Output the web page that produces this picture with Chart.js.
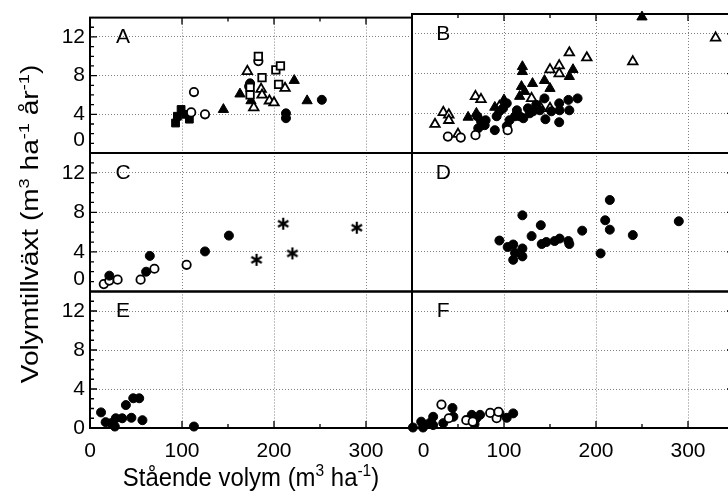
<!DOCTYPE html>
<html><head><meta charset="utf-8">
<script src="https://cdn.jsdelivr.net/npm/chart.js@4/dist/chart.umd.min.js"></script>
<style>
html,body{margin:0;padding:0;background:#fff;overflow:hidden;width:728px;height:491px}
#wrap{position:relative;width:745px;height:491px}
canvas{position:absolute;left:0;top:0}
</style></head><body><div id="wrap"></div>
<script>
// ---------- tick values ----------
const xTicks = [0, 100, 200, 300];
const yTicks = [0, 4, 8, 12];
const yMinorTicks = [1, 2, 3, 4, 5, 6, 7, 8, 9, 10, 11, 12, 13];
const yMajorTicks = [4, 8, 12];
const xMinorLeft = [150, 250];
const xMinorRight = [50, 150, 250];
const xMajorTicks = [100, 200, 300];
const panelLetters = ['A', 'B', 'C', 'D', 'E', 'F'];

// ---------- data (x: stående volym, y: volymtillväxt) ----------
// Panel A
const aFilledSquare = [[93,3.1],[95,3.8],[99,4.5],[104,4.0],[108,3.5]];
const aOpenCircle = [[113,6.3],[110,4.2],[125,4.0],[183,9.5],[173,6.9]];
const aFilledCircle = [[174,7.2],[213,4.1],[213,3.6],[252,5.5]];
const aFilledTri = [[145,4.5],[163,6.1],[175,5.4],[222,7.5],[236,5.4]];
const aOpenTri = [[171,8.45],[178,4.7],[186,6.6],[187,6.0],[195,5.4],[200,5.2],[212,6.7]];
const aOpenSquare = [[183,10.0],[187,7.8],[202,8.6],[207,9.0],[205,7.1],[174,6.8],[174,6.0]];
// Panel B
const bFilledCircle = [[72,2.5],[75,3.2],[80,3.3],[90,2.3],[92,3.7],[95,4.2],[99,4.5],[103,5.0],[103,2.7],[106,3.3],[112,3.7],[114,4.3],[117,3.7],[121,3.5],[126,4.5],[128,4.0],[131.5,4.2],[135,4.85],[139,4.3],[144,5.5],[145,3.4],[151.5,4.2],[160,5.0],[160,3.1],[160.5,4.3],[170,5.35],[171,4.3],[180,5.5],[71,3.7],[79,2.8]];
const bOpenCircle = [[39,1.65],[53,1.55],[69,1.8],[104,2.3]];
const bFilledTri = [[61,3.6],[70,4.0],[90,4.6],[100,5.35],[117,5.7],[119,6.7],[120,8.7],[120,8.2],[122.5,6.2],[131,7.0],[144,7.3],[150,6.5],[171,7.7],[175,8.4],[250,13.7]];
const bOpenTri = [[25,2.9],[34,4.1],[40,3.85],[40,3.3],[50,1.9],[69,5.7],[75,5.4],[95,4.7],[130,5.5],[139,4.7],[150,4.5],[150,8.4],[160,8.8],[160,8.0],[171,10.1],[190,9.6],[240,9.2],[330,11.6]];
// Panel C
const cOpenCircle = [[15,0.75],[21,1.1],[30,1.2],[55,1.2],[70,2.3],[105,2.7]];
const cFilledCircle = [[21,1.6],[61,2.0],[65,3.6],[125,4.05],[151,5.65]];
const cStar = [[181,3.2],[210,6.85],[220,3.85],[290,6.45]];
// Panel D
const dFilledCircle = [[95,5.15],[104,4.5],[110,4.75],[112,3.9],[110,3.2],[120,4.35],[120,3.55],[120,7.7],[130,5.6],[140,6.7],[141,4.8],[146,5.0],[155,5.1],[160.5,5.35],[170,5.1],[171,4.8],[185,6.15],[205,3.85],[210,7.2],[215,6.25],[215,9.25],[240,5.7],[290,7.1]];
// Panel E
const eFilledCircle = [[12,1.6],[17,0.6],[23,0.5],[27,0.15],[28,1.0],[35,1.0],[39,2.35],[45,1.05],[47,3.05],[53.5,3.05],[57,0.8],[113,0.15]];
// Panel F
const fFilledCircle = [[1,0.05],[10,0.65],[12,0.05],[19,0.5],[23,1.15],[23,0.3],[34,0.5],[44,2.05],[45,1.15],[65,1.35],[68,0.4],[70,1.0],[74,1.35],[95,1.5],[103,1.05],[110,1.5]];
const fOpenCircle = [[32,2.4],[40,1.0],[59,0.8],[66,0.65],[85,1.55],[92,1.0],[94,1.65]];

// ---------- styles ----------
const FONT = '"Liberation Sans", Arial, Helvetica, sans-serif';

// six-armed asterisk marker
const starImg = (() => {
  const c = document.createElement('canvas');
  c.width = 14; c.height = 14;
  const g = c.getContext('2d');
  g.strokeStyle = '#000'; g.lineWidth = 2.2; g.lineCap = 'butt';
  g.beginPath();
  for (let k = 0; k < 3; k++) {
    const ang = Math.PI / 2 + k * Math.PI / 3;
    const dx = Math.cos(ang) * 6, dy = Math.sin(ang) * 6;
    g.moveTo(7 - dx, 7 - dy); g.lineTo(7 + dx, 7 + dy);
  }
  g.stroke();
  return c;
})();

const STYLES = {
  filledCircle: {shape: 'circle', r: 4.5, bw: 1, fill: true},
  openCircle: {shape: 'circle', r: 4.2, bw: 1.8, fill: false},
  filledTri: {shape: 'triangle', r: 5.9, bw: 1, fill: true},
  openTri: {shape: 'triangle', r: 5.5, bw: 1.8, fill: false},
  filledSquare: {shape: 'rect', r: 5.5, bw: 1, fill: true},
  openSquare: {shape: 'rect', r: 5.3, bw: 1.8, fill: false},
  star: {shape: starImg, r: 6, bw: 1, fill: false}
};

function ds(arr, style) {
  const st = STYLES[style];
  return {
    data: arr.map(p => ({x: p[0], y: p[1]})),
    pointStyle: st.shape,
    pointRadius: st.r,
    pointBorderWidth: st.bw,
    pointBackgroundColor: st.fill ? '#000' : '#fff',
    pointBorderColor: '#000',
    showLine: false,
    clip: false
  };
}

const W = 745, H = 491;
const colLeft = [90, 412], colRight = [412, 734];
const rowTop = [14, 153, 291.5], rowBottom = [153, 291.5, 428];

const framePlugin = {
  id: 'frame',
  afterDatasetsDraw(chart, args, o) {
    const {ctx, chartArea: a} = chart;
    const xs = chart.scales.x, ys = chart.scales.y;
    ctx.save();
    ctx.strokeStyle = '#000';
    ctx.lineWidth = 1.3;
    ctx.beginPath();
    if (o.leftTicks) for (const v of yMinorTicks) {
      const py = ys.getPixelForValue(v), len = yMajorTicks.includes(v) ? 7 : 4;
      ctx.moveTo(a.left, py); ctx.lineTo(a.left + len, py);
    }
    if (o.rightTicks) for (const v of yMinorTicks) {
      const py = ys.getPixelForValue(v), len = yMajorTicks.includes(v) ? 7 : 4;
      ctx.moveTo(a.right, py); ctx.lineTo(a.right - len, py);
    }
    const xm = o.col === 0 ? xMinorLeft : xMinorRight;
    for (const v of xm.concat(xMajorTicks)) {
      const px = xs.getPixelForValue(v), len = xMajorTicks.includes(v) ? 7 : 4;
      if (o.topTicks) { ctx.moveTo(px, a.top); ctx.lineTo(px, a.top + len); }
      if (o.bottomTicks) { ctx.moveTo(px, a.bottom); ctx.lineTo(px, a.bottom - len); }
    }
    ctx.stroke();
    ctx.lineWidth = 2;
    ctx.strokeRect(a.left, a.top, a.right - a.left, a.bottom - a.top);
    ctx.fillStyle = '#000';
    ctx.font = '21px ' + FONT;
    ctx.textAlign = 'center';
    ctx.textBaseline = 'middle';
    ctx.fillText(o.letter, xs.getPixelForValue(o.letterX), ys.getPixelForValue(12));
    ctx.restore();
  }
};

function drawRich(ctx, parts, size) {
  let total = 0;
  const widths = parts.map(([t, sup]) => {
    ctx.font = (sup ? size * 0.65 : size) + 'px ' + FONT;
    const w = ctx.measureText(t).width; total += w; return w;
  });
  let x = -total / 2;
  parts.forEach(([t, sup], i) => {
    ctx.font = (sup ? size * 0.65 : size) + 'px ' + FONT;
    ctx.fillText(t, x, sup ? -size * 0.4 : 0);
    x += widths[i];
  });
}

const titlePlugin = {
  id: 'titles',
  afterDraw(chart) {
    const ctx = chart.ctx;
    const s = 23;
    ctx.save();
    ctx.fillStyle = '#000';
    ctx.textAlign = 'left';
    ctx.textBaseline = 'alphabetic';
    ctx.translate(251, 477);
    ctx.scale(1.04, 1.1);
    ctx.translate(0, s * 0.35);
    drawRich(ctx, [['Stående volym (m'], ['3', true], [' ha'], ['-1', true], [')']], s);
    ctx.restore();
    ctx.save();
    ctx.fillStyle = '#000';
    ctx.textAlign = 'left';
    ctx.textBaseline = 'alphabetic';
    ctx.translate(30, 224);
    ctx.rotate(-Math.PI / 2);
    ctx.scale(1.22, 1);
    ctx.translate(0, s * 0.35);
    drawRich(ctx, [['Volymtillväxt (m'], ['3', true], [' ha'], ['-1', true], [' år'], ['-1', true], [')']], s);
    ctx.restore();
  }
};

function makePanel(idx, col, row, datasets) {
  const cv = document.createElement('canvas');
  cv.width = W; cv.height = H;
  document.getElementById('wrap').appendChild(cv);
  const L = colLeft[col], R = colRight[col], T = rowTop[row], B = rowBottom[row];
  const showY = col === 0, showX = row === 2;
  const yw = showY ? L : 0;
  const xh = showX ? 60 : 0;
  const plugins = [framePlugin];
  if (idx === 4) plugins.push(titlePlugin);
  new Chart(cv, {
    type: 'scatter',
    data: {datasets},
    plugins,
    options: {
      responsive: false,
      animation: false,
      devicePixelRatio: 1,
      layout: {padding: {left: L - yw, right: W - R, top: T, bottom: H - B - xh}},
      plugins: {
        legend: {display: false},
        tooltip: {enabled: false},
        frame: {
          letter: panelLetters[idx], letterX: col === 0 ? 36 : 34, col,
          leftTicks: col === 0, rightTicks: col === 1,
          topTicks: row === 0, bottomTicks: row === 2
        }
      },
      scales: {
        x: {
          type: 'linear', min: 0, max: 350,
          afterBuildTicks: s => { s.ticks = xTicks.map(v => ({value: v})); },
          afterFit: s => { s.height = xh; },
          grid: {
            color: c => (c.tick && c.tick.value === 0) ? 'rgba(0,0,0,0)' : '#808080',
            lineWidth: 1, drawTicks: false
          },
          border: {display: false, dash: [1, 2]},
          ticks: {
            display: showX, autoSkip: false, maxRotation: 0, padding: 11,
            color: '#000', font: {family: FONT, size: 21},
            callback: v => (v === 0 && col === 1) ? '    0' : String(v)
          }
        },
        y: {
          type: 'linear', min: 0, max: 14,
          afterBuildTicks: s => { s.ticks = yTicks.map(v => ({value: v})); },
          afterFit: s => { s.width = yw; },
          grid: {
            color: c => (c.tick && c.tick.value === 0) ? 'rgba(0,0,0,0)' : '#808080',
            lineWidth: 1, drawTicks: false
          },
          border: {display: false, dash: [1, 2]},
          ticks: {
            display: showY, autoSkip: false, padding: 5,
            color: '#000', font: {family: FONT, size: 21},
            callback: v => (v === 0 && row < 2) ? ['0', ''] : String(v)
          }
        }
      }
    }
  });
}

makePanel(0, 0, 0, [
  ds(aOpenTri, 'openTri'), ds(aOpenSquare, 'openSquare'), ds(aOpenCircle, 'openCircle'),
  ds(aFilledTri, 'filledTri'), ds(aFilledCircle, 'filledCircle'), ds(aFilledSquare, 'filledSquare')
]);
makePanel(1, 1, 0, [
  ds(bOpenCircle, 'openCircle'), ds(bFilledCircle, 'filledCircle'),
  ds(bFilledTri, 'filledTri'), ds(bOpenTri, 'openTri')
]);
makePanel(2, 0, 1, [
  ds(cStar, 'star'), ds(cFilledCircle, 'filledCircle'), ds(cOpenCircle, 'openCircle')
]);
makePanel(3, 1, 1, [ds(dFilledCircle, 'filledCircle')]);
makePanel(4, 0, 2, [ds(eFilledCircle, 'filledCircle')]);
makePanel(5, 1, 2, [ds(fOpenCircle, 'openCircle'), ds(fFilledCircle, 'filledCircle')]);
</script>
</body></html>
